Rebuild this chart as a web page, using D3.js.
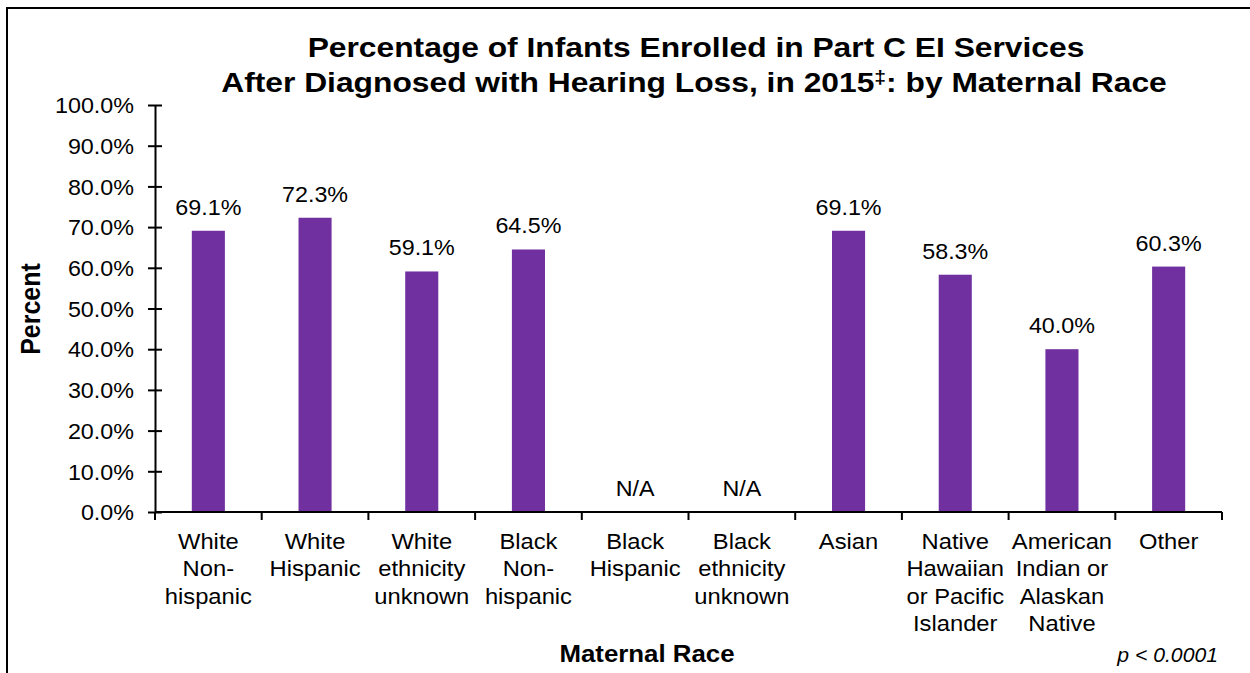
<!DOCTYPE html>
<html>
<head>
<meta charset="utf-8">
<script src="https://cdn.jsdelivr.net/npm/d3@7"></script>
<style>
  body { margin: 0; background: #fff; }
  svg { display: block; font-family: "Liberation Sans", Arial, sans-serif; }
</style>
</head>
<body>
<div id="chart"></div>
<script>
(function() {

    const categories = [
        ["White", "Non-", "hispanic"],
        ["White", "Hispanic"],
        ["White", "ethnicity", "unknown"],
        ["Black", "Non-", "hispanic"],
        ["Black", "Hispanic"],
        ["Black", "ethnicity", "unknown"],
        ["Asian"],
        ["Native", "Hawaiian", "or Pacific", "Islander"],
        ["American", "Indian or", "Alaskan", "Native"],
        ["Other"]
    ];

    const values = [69.1, 72.3, 59.1, 64.5, null, null, 69.1, 58.3, 40.0, 60.3];

    const yTicks = [0, 10, 20, 30, 40, 50, 60, 70, 80, 90, 100];

    const titleLine1 = "Percentage of Infants Enrolled in Part C EI Services";
    // second line: text, superscript mark, text
    const titleLine2 = ["After Diagnosed with Hearing Loss, in 2015", "\u2021", ": by Maternal Race"];

    const data = categories.map((c, i) => ({id: i, lines: c, value: values[i]}));

    const width = 1250;
    const height = 673;
    const margin = {top: 105, right: 28, bottom: 161, left: 155};

    // text in the picture is a little wider than plain Arial
    const sx = 1.06;

    const svg = d3.select("#chart").append("svg")
        .attr("width", width)
        .attr("height", height);

    // frame
    svg.append("path")
        .attr("d", `M7,${height} V8 H${width}`)
        .attr("fill", "none")
        .attr("stroke", "#000")
        .attr("stroke-width", 2);

    const x = d3.scaleBand()
        .domain(data.map(d => d.id))
        .range([margin.left, width - margin.right])
        .paddingInner(0.69)
        .paddingOuter(0.345);

    const y = d3.scaleLinear()
        .domain([0, 100])
        .range([height - margin.bottom, margin.top]);

    // title
    svg.append("text")
        .attr("transform", "translate(696,57) scale(1.115,1)")
        .attr("text-anchor", "middle")
        .attr("font-size", "28.5px")
        .attr("font-weight", "bold")
        .text(titleLine1);

    const t2 = svg.append("text")
        .attr("transform", "translate(694,92) scale(1.115,1)")
        .attr("text-anchor", "middle")
        .attr("font-size", "28.5px")
        .attr("font-weight", "bold");
    t2.append("tspan").text(titleLine2[0]);
    t2.append("tspan").attr("dy", -9).attr("font-size", "19px").text(titleLine2[1]);
    t2.append("tspan").attr("dy", 9).text(titleLine2[2]);

    // bars
    svg.append("g")
        .selectAll("rect")
        .data(data.filter(d => d.value != null))
        .join("rect")
        .attr("x", d => x(d.id))
        .attr("y", d => y(d.value))
        .attr("width", x.bandwidth())
        .attr("height", d => y(0) - y(d.value))
        .attr("fill", "#7030A0");

    // value labels
    svg.append("g")
        .selectAll("text")
        .data(data)
        .join("text")
        .attr("transform", d => `translate(${x(d.id) + x.bandwidth() / 2},${y(d.value == null ? 0 : d.value) - 16}) scale(${sx},1)`)
        .attr("text-anchor", "middle")
        .attr("font-size", "22px")
        .attr("fill", "#000")
        .text(d => d.value == null ? "N/A" : d.value.toFixed(1) + "%");

    // y axis
    const yAxis = svg.append("g")
        .attr("transform", `translate(${margin.left},0)`)
        .call(d3.axisLeft(y)
            .tickValues(yTicks)
            .tickSizeInner(7)
            .tickSizeOuter(0)
            .tickFormat(d => d.toFixed(1) + "%"));
    yAxis.selectAll(".tick line").attr("x1", 7).attr("stroke-width", 2);
    yAxis.select(".domain").attr("stroke-width", 2);
    yAxis.selectAll(".tick text")
        .attr("x", null)
        .attr("dy", "0.35em")
        .attr("transform", `translate(-21,0) scale(${sx},1)`)
        .attr("font-size", "22px")
        .attr("font-family", "Liberation Sans, Arial, sans-serif")
        .attr("fill", "#000");

    // x axis
    const xAxisG = svg.append("g")
        .attr("transform", `translate(0,${height - margin.bottom})`);
    xAxisG.append("line")
        .attr("x1", margin.left)
        .attr("x2", width - margin.right)
        .attr("stroke", "#000")
        .attr("stroke-width", 2);
    const bounds = data.map(d => x(d.id) - x.step() * x.paddingInner() / 2);
    bounds.push(width - margin.right);
    xAxisG.selectAll(".bound")
        .data(bounds)
        .join("line")
        .attr("class", "bound")
        .attr("x1", d => d).attr("x2", d => d)
        .attr("y1", 0).attr("y2", 8)
        .attr("stroke", "#000")
        .attr("stroke-width", 2);

    const catLabels = xAxisG.selectAll(".cat")
        .data(data)
        .join("text")
        .attr("class", "cat")
        .attr("text-anchor", "middle")
        .attr("font-size", "22px")
        .attr("transform", d => `translate(${x(d.id) + x.bandwidth() / 2},37) scale(1.08,1)`);
    catLabels.selectAll("tspan")
        .data(d => d.lines)
        .join("tspan")
        .attr("x", 0)
        .attr("dy", (d, i) => i === 0 ? 0 : 27.5)
        .text(d => d);

    // axis titles
    svg.append("text")
        .attr("transform", `translate(40,309) rotate(-90) scale(1,1.1)`)
        .attr("text-anchor", "middle")
        .attr("font-size", "25px")
        .attr("font-weight", "bold")
        .text("Percent");

    svg.append("text")
        .attr("transform", "translate(647,662) scale(1.1,1)")
        .attr("text-anchor", "middle")
        .attr("font-size", "23.5px")
        .attr("font-weight", "bold")
        .text("Maternal Race");

    svg.append("text")
        .attr("transform", "translate(1218,662) scale(1.06,1)")
        .attr("text-anchor", "end")
        .attr("font-size", "20px")
        .attr("font-style", "italic")
        .text("p < 0.0001");

})();
</script>
</body>
</html>
